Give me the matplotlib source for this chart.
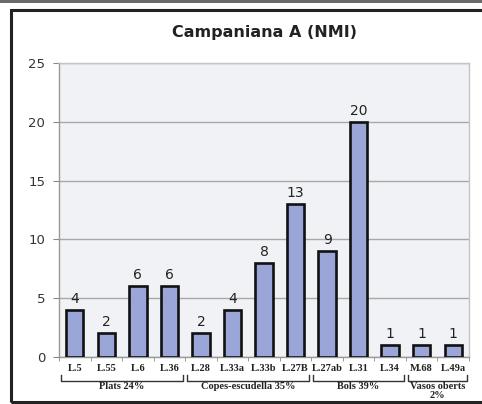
import matplotlib
matplotlib.use("Agg")
import matplotlib.pyplot as plt
from matplotlib.patches import Rectangle
from matplotlib.transforms import blended_transform_factory

categories = ["L.5", "L.55", "L.6", "L.36", "L.28", "L.33a", "L.33b", "L.27B",
              "L.27ab", "L.31", "L.34", "M.68", "L.49a"]
values = [4, 2, 6, 6, 2, 4, 8, 13, 9, 20, 1, 1, 1]
groups = ["Plats 24%", "Copes-escudella 35%", "Bols 39%", "Vasos oberts\n2%"]
group_sizes = [4, 4, 3, 2]
yticks = [0, 5, 10, 15, 20, 25]
title = "Campaniana A (NMI)"

fig = plt.figure(figsize=(4.82, 4.04), dpi=100)
fig.patch.set_facecolor("white")

# outer gray band and inner black frame
fig.add_artist(Rectangle((0, 1 - 2.5 / 404), 1, 2.5 / 404, transform=fig.transFigure,
                         facecolor="#6a6a6a", edgecolor="none"))
fig.add_artist(Rectangle((11 / 482, 2 / 404), 1.2, 392 / 404,
                         transform=fig.transFigure, facecolor="none",
                         edgecolor="#222222", linewidth=2.2))

ax = fig.add_axes([59 / 482, (404 - 357) / 404, (469 - 59) / 482, (357 - 63) / 404])
ax.set_facecolor("#f1f2f5")
x = list(range(len(categories)))
ax.bar(x, values, width=0.55, color="#9aa6d8", edgecolor="#111111", linewidth=1.9, zorder=3)
for xi, v in zip(x, values):
    ax.text(xi, v + 0.35, str(v), ha="center", va="bottom", fontsize=10,
            family="DejaVu Sans", color="#222222", zorder=4)

ax.set_xlim(-0.5, len(categories) - 0.5)
ax.set_ylim(0, 25)
ax.set_yticks(yticks)
ax.set_yticklabels([str(t) for t in yticks], fontsize=9.5, color="#333333")
ax.yaxis.grid(True, color="#a8a8a8", linewidth=1.0, zorder=0)
ax.set_axisbelow(True)
ax.set_xticks(x)
ax.set_xticklabels(categories, fontsize=7.5, family="Liberation Serif",
                   fontweight="bold", color="#222222")
ax.tick_params(axis="x", length=0, pad=5)
ax.set_xticks([i - 0.5 for i in range(len(categories) + 1)], minor=True)
ax.tick_params(axis="x", which="minor", length=3, color="#888888")
ax.tick_params(axis="y", length=4, color="#888888", pad=6)
for s in ["top", "right"]:
    ax.spines[s].set_color("#c4c4c4")
    ax.spines[s].set_linewidth(1.0)
for s in ["left", "bottom"]:
    ax.spines[s].set_color("#999999")
    ax.spines[s].set_linewidth(1.0)

ax.set_title(title, fontsize=11.5, fontweight="bold", color="#222222", pad=19)

# group brackets
tr = blended_transform_factory(ax.transData, ax.transAxes)
start = 0
for g, n in zip(groups, group_sizes):
    x0 = start - 0.5 + 0.06
    x1 = start + n - 0.5 - 0.06
    yb = -0.082
    yt = -0.06
    ax.plot([x0, x0, x1, x1], [yt, yb, yb, yt], transform=tr, color="#333333",
            linewidth=1.0, clip_on=False)
    ax.text((x0 + x1) / 2, yb - 0.004, g, transform=tr, ha="center", va="top",
            fontsize=7.5, family="Liberation Serif", fontweight="bold",
            color="#222222", linespacing=0.9)
    start += n

fig.savefig("out.png", dpi=100)
